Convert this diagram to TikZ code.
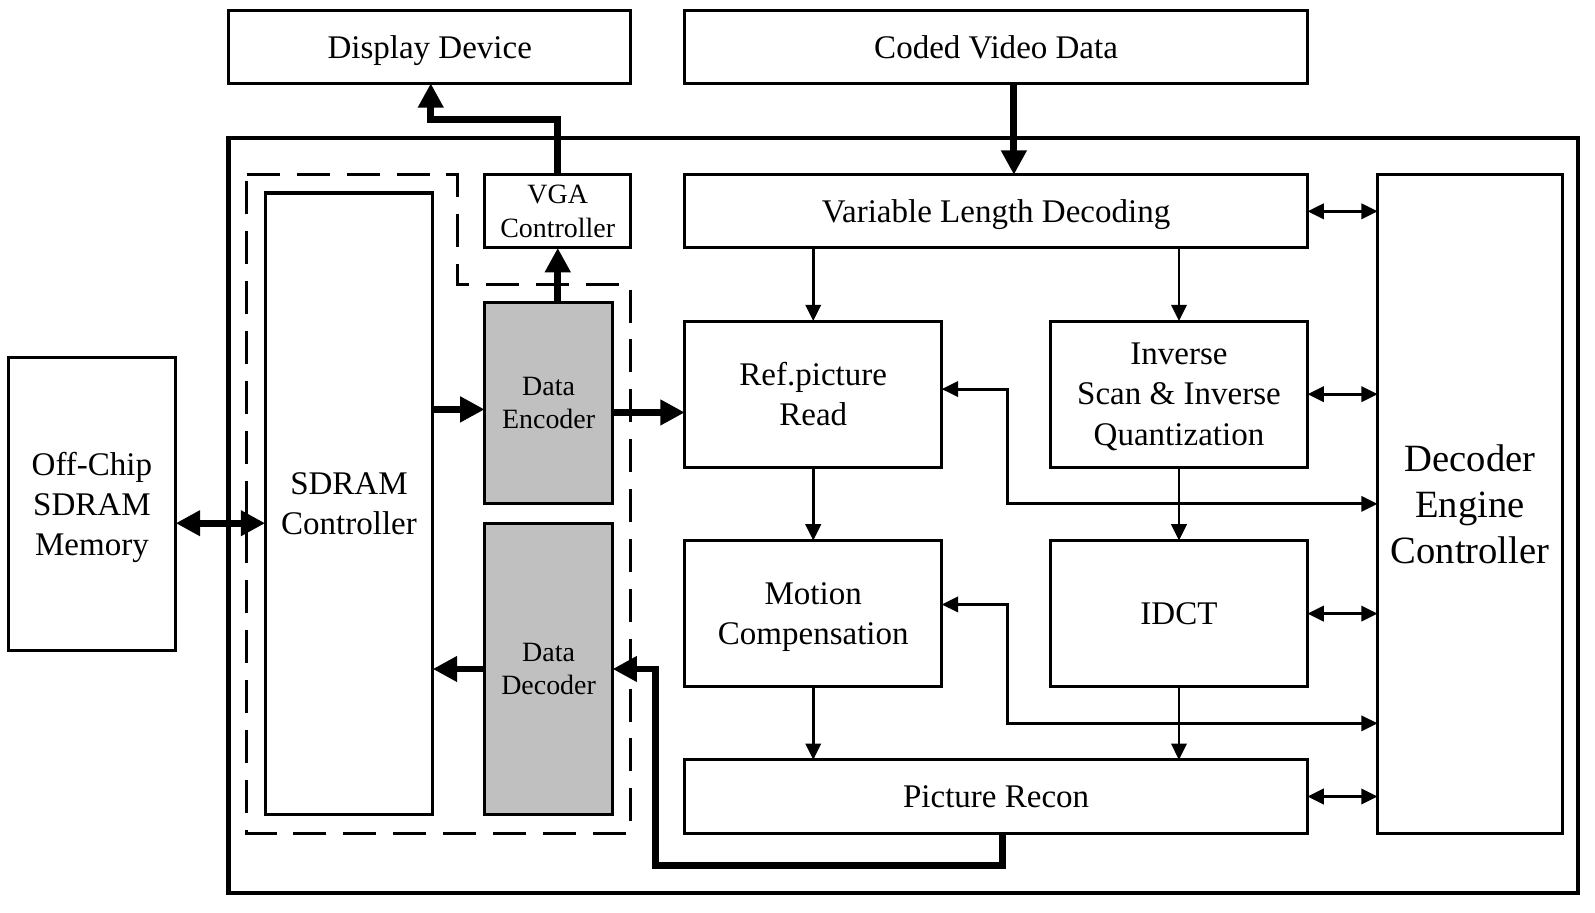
\documentclass[tikz,border=0pt]{standalone}
\usepackage{fontspec}
\setmainfont{Liberation Serif}
\usetikzlibrary{arrows.meta,calc}
\definecolor{blockgray}{HTML}{C0C0C0}
\begin{document}
\begin{tikzpicture}[x=0.5pt,y=-0.5pt,
  box/.style={draw,line width=1.5pt,inner sep=0pt,outer sep=0pt,align=center,text depth=0pt,
    font=\fontsize{16.25}{19.75}\selectfont},
  gbox/.style={box,fill=blockgray,font=\fontsize{13.75}{16.25}\selectfont},
  sbox/.style={box,font=\fontsize{13.75}{16.5}\selectfont},
  conn/.style={line width=1.4pt,-{Triangle[length=8pt,width=7.5pt]}},
  conntwo/.style={line width=1.4pt,{Triangle[length=8pt,width=7.5pt]}-{Triangle[length=8pt,width=7.5pt]}},
  bus/.style={line width=3.4pt,-{Triangle[length=12pt,width=12pt]}},
  bustwo/.style={line width=3.4pt,{Triangle[length=12pt,width=12pt]}-{Triangle[length=12pt,width=12pt]}},
  dashbound/.style={line width=1.5pt,dash pattern=on 16.25pt off 8.3pt},
  chipbox/.style={draw,line width=2.2pt,inner sep=0pt,outer sep=0pt}
]
\useasboundingbox (0,0) rectangle (1570,898);

% outer chip boundary
\node[chipbox,minimum width=664pt,minimum height=371.5pt] (chip) at (889,507.5) {};

% dashed memory-interface region
\draw[dashbound] (243,172) -- (450,172) -- (450,280) -- (621,280) -- (621,820) -- (243,820) -- cycle;

% blocks
\node[box,minimum width=198pt,minimum height=36pt] (disp) at (423,46) {Display Device};
\node[box,minimum width=306.5pt,minimum height=36pt] (coded) at (980.5,46) {Coded Video Data};
\node[box,minimum width=82.5pt,minimum height=144pt] (mem) at (90.5,496) {Off-Chip\\SDRAM\\Memory};
\node[box,minimum width=82.5pt,minimum height=306pt] (sdram) at (343.5,496) {SDRAM\\Controller};
\node[sbox,minimum width=72pt,minimum height=36pt] (vga) at (549,208) {VGA\\Controller};
\node[gbox,minimum width=63pt,minimum height=99pt] (enc) at (540,397) {Data\\Encoder};
\node[gbox,minimum width=63pt,minimum height=143.5pt] (decd) at (540,658.5) {Data\\Decoder};
\node[box,minimum width=306.5pt,minimum height=36pt] (vld) at (980.5,208) {Variable Length Decoding};
\node[box,minimum width=126.5pt,minimum height=72pt] (ref) at (800.5,388) {Ref.picture\\Read};
\node[box,minimum width=126.5pt,minimum height=72pt] (inv) at (1160.5,388) {Inverse\\Scan \& Inverse\\Quantization};
\node[box,minimum width=126.5pt,minimum height=72pt] (mc) at (800.5,604) {Motion\\Compensation};
\node[box,minimum width=126.5pt,minimum height=72pt] (idct) at (1160.5,604) {IDCT};
\node[box,minimum width=306.5pt,minimum height=36pt] (recon) at (980.5,784) {Picture Recon};
\node[box,minimum width=91pt,minimum height=324pt,font=\fontsize{19}{22.75}\selectfont] (dec) at (1447,496) {Decoder\\Engine\\Controller};

% helper coordinates
\coordinate (cv) at (998,0);
\coordinate (dv) at (424,118);
\coordinate (ya) at (0,403);
\coordinate (yb) at (0,406);
\coordinate (yc) at (0,515);
\coordinate (rx) at (987,0);
\coordinate (rb) at (645,852);
\coordinate (ba) at (992,496);
\coordinate (bb) at (992,712);
\coordinate (yr) at (0,383);
\coordinate (ym) at (0,595);

% thick buses
\draw[bus] (coded.south -| cv) -- (vld.north -| cv);
\draw[bus] (vga.north) |- (dv) -- (disp.south -| dv);
\draw[bus] (enc.north -| vga) -- (vga.south);
\draw[bus] (sdram.east |- ya) -- (enc.west |- ya);
\draw[bus] (enc.east |- yb) -- (ref.west |- yb);
\draw[bus] (decd.west) -- (sdram.east |- decd.west);
\draw[bus] (recon.south -| rx) |- (rb) |- (decd.east);
\draw[bustwo] (mem.east |- yc) -- (sdram.west |- yc);

% thin data flow
\draw[conn] (vld.south -| ref) -- (ref.north);
\draw[conn] (vld.south -| inv) -- (inv.north);
\draw[conn] (ref.south) -- (mc.north);
\draw[conn] (inv.south) -- (idct.north);
\draw[conn] (mc.south) -- (recon.north -| mc);
\draw[conn] (idct.south) -- (recon.north -| idct);

% controller links
\draw[conntwo] (vld.east) -- (dec.west |- vld.east);
\draw[conntwo] (inv.east) -- (dec.west |- inv.east);
\draw[conntwo] (idct.east) -- (dec.west |- idct.east);
\draw[conntwo] (recon.east) -- (dec.west |- recon.east);
\draw[conntwo] (ref.east |- yr) -| (ba) -- (dec.west |- ba);
\draw[conntwo] (mc.east |- ym) -| (bb) -- (dec.west |- bb);
\end{tikzpicture}
\end{document}
